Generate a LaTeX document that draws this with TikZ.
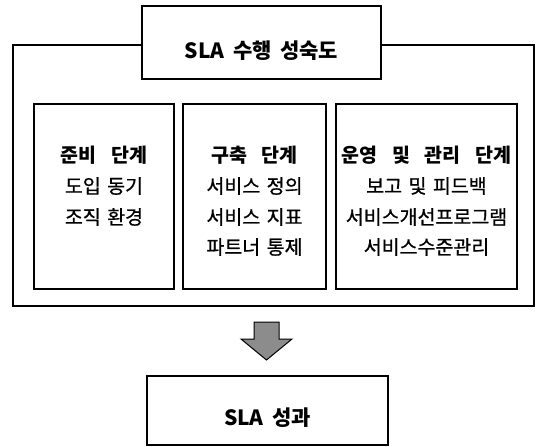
\documentclass[tikz,border=0pt]{standalone}
\usepackage{fontspec}
\setmainfont{Noto Sans CJK KR}
\newfontfamily\medfont[FakeBold=0.8]{Noto Sans CJK KR}
\newcommand{\ks}{\hspace{0.4em}}
\newcommand{\hs}{\hspace{0.75em}}
\newcommand{\bs}{\hspace{0.33em}}
\begin{document}
\begin{tikzpicture}[x=1pt,y=-1pt,
  frame/.style={draw=black,line width=1.5pt},
  boxstyle/.style={draw=black,line width=1.5pt,fill=white},
  head/.style={font=\fontsize{19.5}{19.5}\selectfont\bfseries,anchor=center,inner sep=0pt},
  body/.style={font=\fontsize{19.5}{19.5}\selectfont\medfont,anchor=center,inner sep=0pt},
  ttl/.style={font=\fontsize{21}{21}\selectfont\bfseries,anchor=center,inner sep=0pt}]
\useasboundingbox (0,0) rectangle (536,447);
% outer frame
\draw[frame] (13,45) rectangle (534,306);
% title box
\draw[boxstyle] (142,6) rectangle (381,79);
\node[ttl] (title) at (261.5,51) {SLA\ks 수행\ks 성숙도};
% inner boxes
\draw[frame] (34,104) rectangle (174,289);
\draw[frame] (183,104) rectangle (326,289);
\draw[frame] (336,104) rectangle (517,289);
% box 1
\node[head] (h1) at (104,155) {준비\hs 단계};
\node[body] (a1) at (104,186) {도입\bs 동기};
\node[body] (a2) at (104,217) {조직\bs 환경};
% box 2
\node[head] (h2) at (254.5,155) {구축\hs 단계};
\node[body] (b1) at (254.5,186) {서비스\bs 정의};
\node[body] (b2) at (254.5,217) {서비스\bs 지표};
\node[body] (b3) at (254.5,247) {파트너\bs 통제};
% box 3
\node[head] (h3) at (426.5,155) {운영\hs 및\hs 관리\hs 단계};
\node[body] (c1) at (426.5,186) {보고\bs 및\bs 피드백};
\node[body] (c2) at (426.5,217) {서비스개선프로그램};
\node[body] (c3) at (426.5,247) {서비스수준관리};
% arrow
\draw[line width=1pt,fill=black!45] (254,322) -- (279,322) -- (279,339) -- (292,339)
  -- (266.5,360) -- (241,339) -- (254,339) -- cycle;
% bottom box
\draw[boxstyle] (147,376) rectangle (388,445);
\node[ttl] (res) at (267.5,418) {SLA\ks 성과};
\end{tikzpicture}
\end{document}
